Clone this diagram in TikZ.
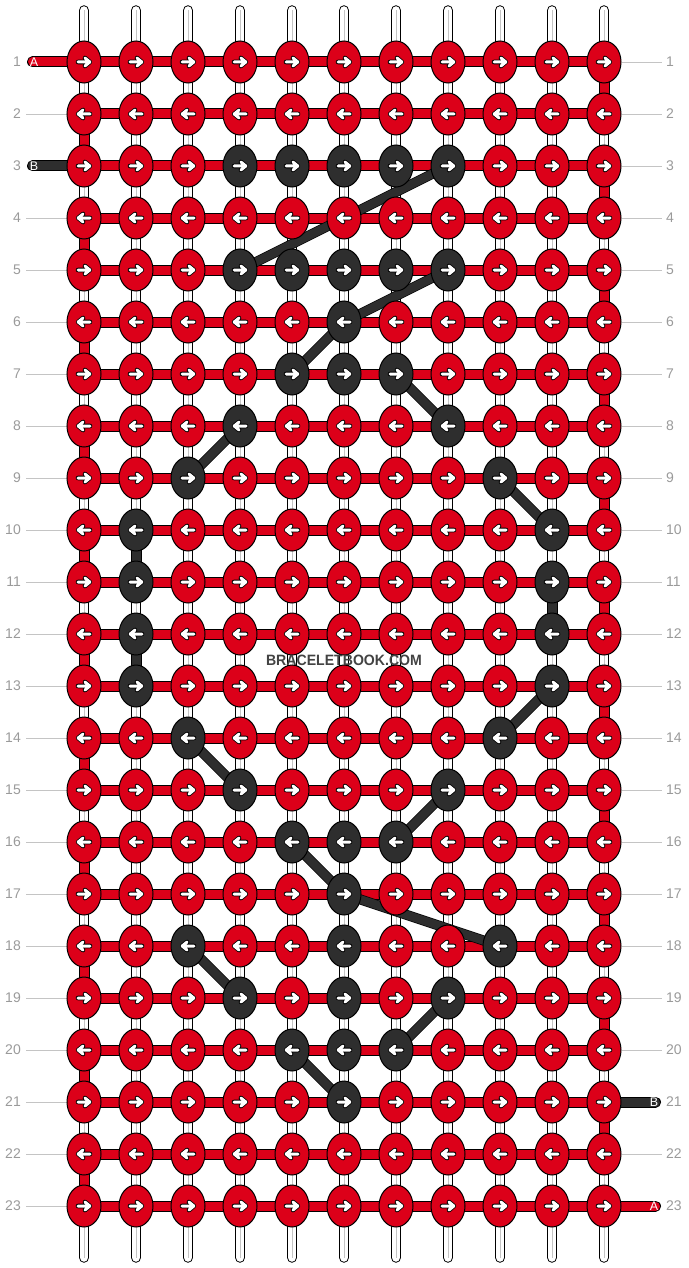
\documentclass[tikz,border=0pt]{standalone}
\usepackage{fontspec}
\setmainfont{Liberation Sans}
\usetikzlibrary{shapes.geometric}
\pgfdeclarelayer{strings}
\pgfsetlayers{strings,main}
\definecolor{knotred}{HTML}{DC0019}
\definecolor{knotdark}{HTML}{2E2E2E}
\definecolor{numgrey}{HTML}{9A9A9A}
\definecolor{tickgrey}{HTML}{C4C4C4}
\tikzset{
  knot/.style={ellipse,draw=black,line width=1pt,minimum width=34pt,minimum height=42pt,inner sep=0pt},
  warp/.style={draw=black,line width=1pt,double=white,double distance=8.5pt,line cap=round},
  warpmid/.style={draw=tickgrey,line width=0.8pt},
  weft/.style={draw=black,line width=1pt,double=knotred,double distance=9pt},
  bweft/.style={draw=black,line width=1pt,double=knotdark,double distance=9pt},
  bpath/.style={draw=black,line width=0.7pt,double=knotdark,double distance=8.6pt},
  tick/.style={draw=tickgrey,line width=0.8pt},
  rownum/.style={text=numgrey,font=\fontsize{14}{14}\selectfont,inner sep=0pt},
  endtag/.style={text=white,font=\fontsize{12.5}{12.5}\selectfont,inner sep=0pt},
  arrowmark/.style={draw=black,line width=0.8pt,double=white,double distance=3pt,line cap=round,line join=round},
}
\begin{document}
\begin{tikzpicture}[x=1pt,y=-1pt]
\useasboundingbox (0,0) rectangle (688,1268);
\foreach \r/\c in {3/4,3/5,3/6,3/7,3/8,5/4,5/5,5/6,5/7,5/8,6/6,7/5,7/6,7/7,8/4,8/8,
  9/3,9/9,10/2,10/10,11/2,11/10,12/2,12/10,13/2,13/10,14/3,14/9,15/4,15/8,
  16/5,16/6,16/7,17/6,18/3,18/6,18/9,19/4,19/6,19/8,20/5,20/6,20/7,21/6}
  {\expandafter\gdef\csname dk-\r-\c\endcsname{}}
\foreach \r in {1,...,23}{
  \foreach \c in {1,...,11}{
    \ifcsname dk-\r-\c\endcsname\def\kfill{knotdark}\else\def\kfill{knotred}\fi
    \node[knot,fill=\kfill] (k-\r-\c) at ({32+52*\c},{10+52*\r}) {};
    \ifodd\r\def\d{1}\else\def\d{-1}\fi
    \begin{scope}[shift={(k-\r-\c.center)},xscale=\d]
      \draw[arrowmark] (-6,0) -- (5.8,0) (1,-4) -- (5.8,0) -- (1,4);
    \end{scope}
  }
  \node[rownum,anchor=east] (nl-\r) at (21,{10+52*\r}) {\r};
  \node[rownum,anchor=west] (nr-\r) at (666,{10+52*\r}) {\r};
}
\node[text=knotdark!90!white,font=\bfseries\fontsize{15}{15}\selectfont,xscale=0.94,transform shape] (site) at (344,660) {BRACELETBOOK.COM};
\begin{pgfonlayer}{strings}
\foreach \c in {1,...,11}{
  \coordinate (wt-\c) at ({32+52*\c},10.5);
  \coordinate (wb-\c) at ({32+52*\c},1257.5);
  \draw[warp] (wt-\c) -- (wb-\c);
  \draw[warpmid] (wt-\c) -- (wb-\c);
}
\foreach \r in {1,...,23}
  \draw[weft] (k-\r-1.center) -- (k-\r-11.center);
\foreach \r in {2,4,...,22}{
  \pgfmathtruncatemacro\s{\r+1}
  \draw[weft] (k-\r-1.center) -- (k-\s-1.center);
}
\foreach \r in {1,3,...,21}{
  \pgfmathtruncatemacro\s{\r+1}
  \draw[weft] (k-\r-11.center) -- (k-\s-11.center);
}
\foreach \r in {2,4,5,6,...,23}{
  \coordinate (tl-\r) at (26,{10+52*\r});
  \draw[tick] (tl-\r) -- (k-\r-1.west);
}
\foreach \r in {1,...,20,22}{
  \coordinate (tr-\r) at (662,{10+52*\r});
  \draw[tick] (k-\r-11.east) -- (tr-\r);
}
\coordinate (endA) at (32.5,62);
\coordinate (endB) at (32.5,166);
\coordinate (exitB) at (655.5,1102);
\coordinate (exitA) at (655.5,1206);
\draw[weft,line cap=round] (endA) -- (k-1-1.center);
\draw[bweft,line cap=round] (endB) -- (k-3-1.center);
\draw[bweft,line cap=round] (k-21-11.center) -- (exitB);
\draw[weft,line cap=round] (k-23-11.center) -- (exitA);
\node[endtag] (tagA) at (34,62) {A};
\node[endtag] (tagB) at (34,166) {B};
\node[endtag] (tagB2) at (654,1102) {B};
\node[endtag] (tagA2) at (654,1206) {A};
\foreach \a/\b in {10-2/11-2,12-2/13-2,11-10/12-10}
  \draw[bweft] (k-\a.center) -- (k-\b.center);
\foreach \a/\b in {3-8/5-4,5-8/6-6,6-6/7-5,7-7/8-8,8-4/9-3,9-9/10-10,13-10/14-9,
  14-3/15-4,15-8/16-7,16-5/17-6,17-6/18-9,18-3/19-4,19-8/20-7,20-5/21-6}
  \draw[bpath] (k-\a.center) -- (k-\b.center);
\end{pgfonlayer}
\end{tikzpicture}
\end{document}
